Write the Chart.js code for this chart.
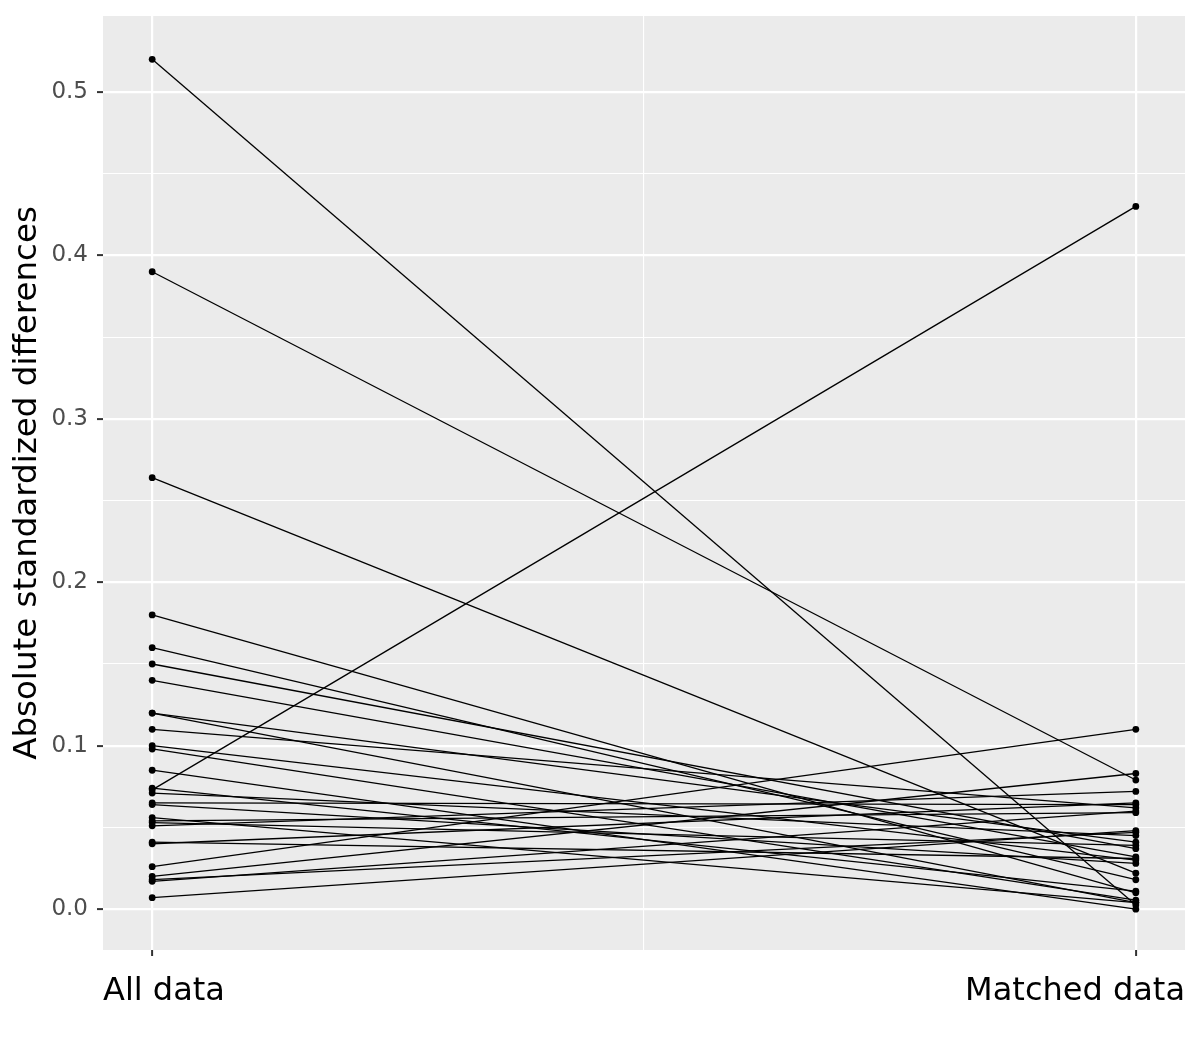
<!DOCTYPE html>
<html lang="en">
  <head>
    <meta charset="UTF-8" />
    <title>Absolute standardized differences</title>
    <script src="https://cdn.jsdelivr.net/npm/chart.js@4.4.1/dist/chart.umd.min.js"></script>
    <style>
      body { margin: 0; background: #fff; }
    </style>
  </head>
  <body>
    <canvas id="myChart" width="1200" height="1043"></canvas>
    <script>
      // paired values: same index = same covariate
      const allData = [0.52, 0.39, 0.264, 0.18, 0.16, 0.15, 0.14, 0.12, 0.12, 0.11,
        0.10, 0.098, 0.085, 0.074, 0.073, 0.071, 0.065, 0.064, 0.056, 0.054,
        0.053, 0.051, 0.041, 0.040, 0.026, 0.020, 0.018, 0.017, 0.007];
      const matchedData = [0.0025, 0.079, 0.022, 0.010, 0.018, 0.037, 0.032, 0.041, 0.004, 0.062,
        0.030, 0.0055, 0.000, 0.011, 0.43, 0.045, 0.064, 0.028, 0.004, 0.059,
        0.039, 0.072, 0.031, 0.065, 0.11, 0.083, 0.047, 0.060, 0.048];
      const groups = ["All data", "Matched data"];
      const yTicks = [0, 0.05, 0.1, 0.15, 0.2, 0.25, 0.3, 0.35, 0.4, 0.45, 0.5];
      const yLabels = ["0.0", "", "0.1", "", "0.2", "", "0.3", "", "0.4", "", "0.5"];
      const xGrid = [0, 0.5, 1];

      const isMajorY = (v) => yTicks.indexOf(v) % 2 === 0;

      const datasets = allData.map((a, i) => ({
        data: [{ x: 0, y: a }, { x: 1, y: matchedData[i] }],
        borderColor: "#000",
        backgroundColor: "#000",
        borderWidth: 1.3,
        pointRadius: 3.4,
        pointBorderWidth: 0,
        pointHoverRadius: 3.4,
      }));

      const panelBg = {
        id: "panelBg",
        beforeDraw(chart) {
          const a = chart.chartArea;
          const c = chart.ctx;
          c.save();
          c.fillStyle = "#EBEBEB";
          c.fillRect(a.left, a.top, a.right - a.left, a.bottom - a.top);
          c.restore();
        },
      };

      const ctx = document.getElementById("myChart").getContext("2d");
      new Chart(ctx, {
        type: "line",
        data: { datasets },
        plugins: [panelBg],
        options: {
          responsive: false,
          animation: false,
          layout: { padding: { top: 16, right: 15, left: 0, bottom: 0 } },
          plugins: { legend: { display: false }, tooltip: { enabled: false } },
          scales: {
            x: {
              type: "linear",
              min: -0.05,
              max: 1.05,
              afterBuildTicks: (s) => { s.ticks = xGrid.map((v) => ({ value: v })); },
              afterFit: (s) => { s.height = 7; },
              ticks: { display: false },
              border: { display: false },
              grid: {
                color: "#FFFFFF",
                lineWidth: (c) => (c.tick && c.tick.value === 0.5 ? 1.1 : 2.2),
                tickLength: 6,
                tickWidth: 2,
                tickColor: (c) => (c.tick && c.tick.value === 0.5 ? "rgba(0,0,0,0)" : "#333333"),
              },
            },
            x2: {
              type: "linear",
              position: "bottom",
              min: -0.05,
              max: 1.05,
              afterBuildTicks: (s) => { s.ticks = [{ value: -0.05 }, { value: 1.05 }]; },
              afterFit: (s) => { s.height = 86; s.paddingLeft = 0; s.paddingRight = 0; },
              border: { display: false },
              grid: { display: false, drawTicks: false },
              ticks: {
                align: "inner",
                maxRotation: 0,
                padding: 15,
                color: "#000000",
                font: { family: "DejaVu Sans", size: 32 },
                callback: (v, i) => groups[i],
              },
            },
            y: {
              min: -0.025,
              max: 0.5465,
              afterBuildTicks: (s) => { s.ticks = yTicks.map((v) => ({ value: v })); },
              afterFit: (s) => { s.width = 103; s.paddingTop = 0; s.paddingBottom = 0; },
              border: { display: false },
              grid: {
                color: "#FFFFFF",
                lineWidth: (c) => (c.tick && isMajorY(c.tick.value) ? 2.2 : 1.1),
                tickLength: 6,
                tickWidth: 2,
                tickColor: (c) => (c.tick && isMajorY(c.tick.value) ? "#333333" : "rgba(0,0,0,0)"),
              },
              ticks: {
                padding: 9,
                color: "#4D4D4D",
                font: { family: "DejaVu Sans", size: 23 },
                callback: (v, i) => yLabels[i],
              },
              title: {
                display: true,
                text: "Absolute standardized differences",
                color: "#000000",
                font: { family: "DejaVu Sans", size: 32.5 },
                padding: { top: 8, bottom: 0 },
              },
            },
          },
        },
      });
    </script>
  </body>
</html>
